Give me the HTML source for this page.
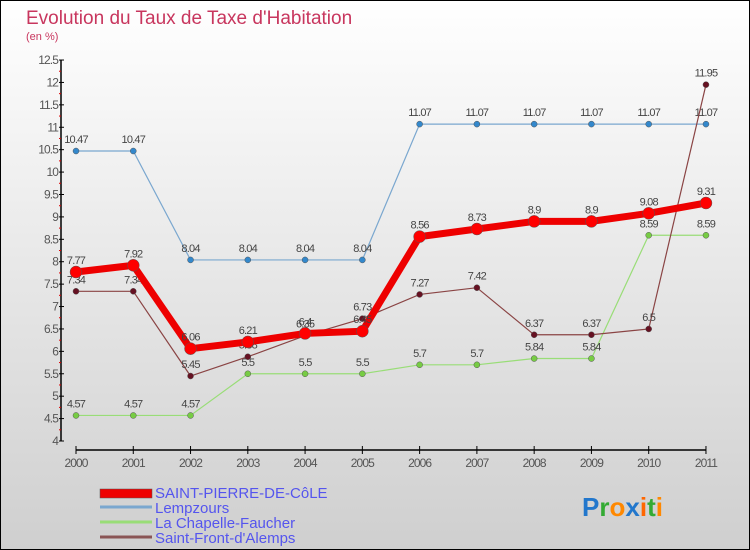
<!DOCTYPE html>
<html><head><meta charset="utf-8"><style>
body{margin:0;}
svg{display:block;font-family:"Liberation Sans",sans-serif;}
</style></head><body>
<svg id="c" width="750" height="550">
<defs><linearGradient id="bg" x1="0" y1="0" x2="0" y2="1"><stop offset="0" stop-color="#ffffff"/><stop offset="1" stop-color="#cfcfcf"/></linearGradient></defs>
<rect x="0.5" y="0.5" width="749" height="549" fill="url(#bg)" stroke="#000"/>
<text x="26" y="24" font-size="19" fill="#c8365e">Evolution du Taux de Taxe d'Habitation</text>
<text x="26" y="40" font-size="11" fill="#c8365e">(en %)</text>
<g id="axes"></g><g id="series"></g>
<g>
<rect x="100" y="489" width="52" height="9" fill="#e00" stroke="#555" stroke-width="0.5"/>
<line x1="100" y1="507" x2="152" y2="507" stroke="#7aa7cf" stroke-width="3"/>
<line x1="100" y1="522" x2="152" y2="522" stroke="#99dd77" stroke-width="3"/>
<line x1="100" y1="537" x2="152" y2="537" stroke="#8a5555" stroke-width="3"/>
<text x="155" y="498" font-size="15" fill="#5555ee">SAINT-PIERRE-DE-CôLE</text>
<text x="155" y="513" font-size="15" fill="#5555ee">Lempzours</text>
<text x="155" y="528" font-size="15" fill="#5555ee">La Chapelle-Faucher</text>
<text x="155" y="543" font-size="15" fill="#5555ee">Saint-Front-d'Alemps</text>
</g>
<text x="582" y="516" font-size="26" font-weight="bold"><tspan fill="#2277cc">P</tspan><tspan fill="#33aa33">r</tspan><tspan fill="#ff8800">o</tspan><tspan fill="#2277cc">x</tspan><tspan fill="#ff6600">i</tspan><tspan fill="#33aa33">t</tspan><tspan fill="#ff8800">i</tspan></text>
</svg>
<script>
const years=["2000","2001","2002","2003","2004","2005","2006","2007","2008","2009","2010","2011"];
const yTicks=[4,4.5,5,5.5,6,6.5,7,7.5,8,8.5,9,9.5,10,10.5,11,11.5,12,12.5];
const stPierre=[7.77,7.92,6.06,6.21,6.4,6.45,8.56,8.73,8.9,8.9,9.08,9.31];
const lempzours=[10.47,10.47,8.04,8.04,8.04,8.04,11.07,11.07,11.07,11.07,11.07,11.07];
const chapelle=[4.57,4.57,4.57,5.5,5.5,5.5,5.7,5.7,5.84,5.84,8.59,8.59];
const stFront=[7.34,7.34,5.45,5.88,6.35,6.73,7.27,7.42,6.37,6.37,6.5,11.95];
const NS="http://www.w3.org/2000/svg";
const xs=i=>76+i*57.27;
const ys=v=>441-(v-4)*44.82;
function mk(t,a,p){const e=document.createElementNS(NS,t);for(const k in a)e.setAttribute(k,a[k]);p.appendChild(e);return e;}
const ax=document.getElementById('axes');
const yl=mk('line',{x1:61,y1:ys(12.5),x2:61,y2:441,stroke:'#000','stroke-width':1.5},ax);


yTicks.forEach((v,k)=>{
 mk('line',{x1:59,y1:ys(v),x2:64,y2:ys(v),stroke:'#000'},ax);
 if(k<yTicks.length-1) mk('line',{x1:59,y1:ys(v+0.25),x2:61,y2:ys(v+0.25),stroke:'#d00'},ax);
 const t=mk('text',{x:58,y:ys(v)+4,'font-size':12,fill:'#555','text-anchor':'end','letter-spacing':'-0.9'},ax);t.textContent=String(v);
 
 
});
const xl=mk('line',{x1:xs(0),y1:450,x2:xs(11),y2:450,stroke:'#000','stroke-width':1.5},ax);


years.forEach((y,i)=>{
 mk('line',{x1:xs(i),y1:446,x2:xs(i),y2:454,stroke:'#000'},ax);
 const t=mk('text',{x:xs(i),y:467,'font-size':12,fill:'#555','text-anchor':'middle','letter-spacing':'-0.9'},ax);t.textContent=y;
 
 
});
const sg=document.getElementById('series');
function series(data,color,w,r,dot,name){
 const g=mk('g',{},sg);
 
 
 mk('polyline',{points:data.map((v,i)=>xs(i)+','+ys(v)).join(' '),fill:'none',stroke:color,'stroke-width':w},g);
 data.forEach((v,i)=>{
  const c=mk('circle',{cx:xs(i),cy:ys(v),r:r,fill:dot,stroke:'#555','stroke-width':0.5},g);
  
  
  const t=mk('text',{x:xs(i),y:ys(v)-8,'font-size':11,fill:'#444','text-anchor':'middle','letter-spacing':'-0.8'},g);t.textContent=String(v);
  
  
 });
}
series(lempzours,'#7aa7cf',1.2,3,'#3388cc','lempzours-series');
series(chapelle,'#99dd77',1.2,3,'#77cc44','chapelle-series');
series(stFront,'#8a4444',1.2,3,'#661122','saint-front-series');
series(stPierre,'#ee0000',7,6,'#ff0000','saint-pierre-series');
</script>
</body></html>
